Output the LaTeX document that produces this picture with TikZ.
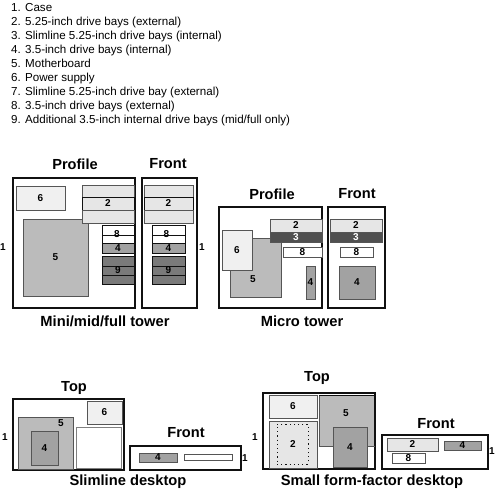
\documentclass[tikz,border=0pt]{standalone}
\usepackage{fontspec}
\setmainfont{Liberation Sans}
\usetikzlibrary{positioning}
\definecolor{wallgray}{HTML}{111111}
\definecolor{edgegray}{HTML}{555555}
\definecolor{psufill}{HTML}{F0F0F0}
\definecolor{bayfill}{HTML}{E6E6E6}
\definecolor{boardfill}{HTML}{BBBBBB}
\definecolor{intfill}{HTML}{A2A2A2}
\definecolor{addfill}{HTML}{7A7A7A}
\definecolor{slimfill}{HTML}{505050}
\tikzset{
  casebox/.style={
    rectangle, draw=wallgray, fill=white, line width=1.5pt,
    inner sep=0pt, outer sep=0pt
  },
  partbox/.style={
    rectangle, draw=edgegray, fill=#1, line width=0.9pt,
    inner sep=0pt, outer sep=0pt, font=\fontsize{10}{11}\selectfont\bfseries
  },
  linebox/.style={partbox=#1, draw=wallgray},
  numlabel/.style={inner sep=0pt, font=\fontsize{10}{11}\selectfont\bfseries},
  viewtitle/.style={inner sep=0pt, font=\fontsize{14.6}{16}\selectfont\bfseries},
  grouptitle/.style={inner sep=0pt, font=\fontsize{14.7}{16}\selectfont\bfseries},
}
\begin{document}
\begin{tikzpicture}[x=1pt,y=-1pt]
  \useasboundingbox (0,0) rectangle (500,490);
  \node[anchor=north west, inner sep=0pt, align=left, font=\fontsize{11.6}{14}\selectfont](legend) at (11,3.2)
    {1. Case\\2. 5.25-inch drive bays (external)\\3. Slimline 5.25-inch drive bays (internal)\\4. 3.5-inch drive bays (internal)\\5. Motherboard\\6. Power supply\\7. Slimline 5.25-inch drive bay (external)\\8. 3.5-inch drive bays (external)\\9. Additional 3.5-inch internal drive bays (mid/full only)};

  % tower
  \node[viewtitle](twprofile) at (75,164) {Profile};
  \node[viewtitle](twfront) at (168,164) {Front};
  \node[casebox, minimum width=122pt, minimum height=130pt](twcase) at (74,243) {};
  \node[casebox, minimum width=55pt, minimum height=130pt](twcasef) at (169.5,243) {};
  \node[partbox=psufill, minimum width=49pt, minimum height=24pt](tw6) at (40.5,198) {6};
  \node[partbox=boardfill, minimum width=65pt, minimum height=77pt](tw5) at (55.5,257.5) {5};
  \node[partbox=bayfill, minimum width=52pt, minimum height=12pt](twa) at (108,191) {};
  \node[linebox=bayfill, minimum width=52pt, minimum height=13pt](twb) at (108,203.5) {2};
  \node[partbox=bayfill, minimum width=52pt, minimum height=13pt](twc) at (108,216.5) {};
  \node[linebox=white, minimum width=32pt, minimum height=10pt](twd) at (118,230) {};
  \node[linebox=white, minimum width=32pt, minimum height=8pt](twe) at (118,239) {};
  \node[linebox=intfill, minimum width=32pt, minimum height=10pt](tw4) at (118,248) {4};
  \node[linebox=addfill, minimum width=32pt, minimum height=10pt](twf) at (118,261) {};
  \node[linebox=addfill, minimum width=32pt, minimum height=9pt](tw9) at (118,270.5) {9};
  \node[linebox=addfill, minimum width=32pt, minimum height=9pt](twg) at (118,279.5) {};
  \node[numlabel](tw8) at (117,234.5) {8};
  \node[partbox=bayfill, minimum width=49pt, minimum height=12pt](tfa) at (168.5,191) {};
  \node[linebox=bayfill, minimum width=49pt, minimum height=13pt](tfb) at (168.5,203.5) {2};
  \node[partbox=bayfill, minimum width=49pt, minimum height=13pt](tfc) at (168.5,216.5) {};
  \node[linebox=white, minimum width=33pt, minimum height=10pt](tfd) at (168.5,230) {};
  \node[linebox=white, minimum width=33pt, minimum height=8pt](tfe) at (168.5,239) {};
  \node[linebox=intfill, minimum width=33pt, minimum height=10pt](tf4) at (168.5,248) {4};
  \node[linebox=addfill, minimum width=33pt, minimum height=10pt](tff) at (168.5,261) {};
  \node[linebox=addfill, minimum width=33pt, minimum height=9pt](tf9) at (168.5,270.5) {9};
  \node[linebox=addfill, minimum width=33pt, minimum height=9pt](tfg) at (168.5,279.5) {};
  \node[numlabel](tf8) at (166.5,234.5) {8};
  \node[numlabel](twone) at (3,247.5) {1};
  \node[numlabel](tfone) at (202,247.5) {1};
  \node[grouptitle](twname) at (105,321) {Mini/mid/full tower};

  % micro tower
  \node[viewtitle](miprofile) at (272,194) {Profile};
  \node[viewtitle](mifront) at (357,194) {Front};
  \node[casebox, minimum width=103pt, minimum height=101pt](micase) at (270.5,257.5) {};
  \node[casebox, minimum width=57pt, minimum height=101pt](micasef) at (356.5,257.5) {};
  \node[partbox=boardfill, minimum width=51pt, minimum height=59pt](mi5) at (255.5,267.5) {};
  \node[numlabel](mi5t) at (253,279) {5};
  \node[partbox=bayfill, minimum width=52pt, minimum height=13pt](mi2) at (296,225.5) {2};
  \node[partbox=slimfill, text=white, minimum width=52pt, minimum height=10pt](mi3) at (296,237) {3};
  \node[partbox=psufill, minimum width=30pt, minimum height=40pt](mi6) at (237,250) {6};
  \node[partbox=white, minimum width=39pt, minimum height=10pt](mi8) at (302.5,252) {8};
  \node[partbox=intfill, minimum width=9pt, minimum height=33pt](mi4) at (310.5,282.5) {4};
  \node[partbox=bayfill, minimum width=52pt, minimum height=13pt](mf2) at (356,225.5) {2};
  \node[partbox=slimfill, text=white, minimum width=52pt, minimum height=10pt](mf3) at (356,237) {3};
  \node[partbox=white, minimum width=33pt, minimum height=10pt](mf8) at (356.5,252) {8};
  \node[partbox=intfill, minimum width=36pt, minimum height=33pt](mf4) at (357,282.5) {4};
  \node[grouptitle](miname) at (302,321) {Micro tower};

  % slimline desktop
  \node[viewtitle](sltop) at (74,388) {Top};
  \node[viewtitle](slfront) at (186,433) {Front};
  \node[casebox, minimum width=111pt, minimum height=71pt](slcase) at (68.5,434.5) {};
  \node[casebox, minimum width=111pt, minimum height=24pt](slcasef) at (185.5,458) {};
  \node[partbox=psufill, minimum width=35pt, minimum height=23pt](sl6) at (104.5,412.5) {6};
  \node[partbox=boardfill, minimum width=55pt, minimum height=52pt](sl5) at (45.5,443) {};
  \node[numlabel](sl5t) at (61,423.5) {5};
  \node[partbox=intfill, minimum width=27pt, minimum height=34pt](sl4) at (44.5,448) {4};
  \node[partbox=white, draw=gray, minimum width=45pt, minimum height=41pt](slbay) at (98.5,447.5) {};
  \node[partbox=intfill, minimum width=38pt, minimum height=9pt](sf4) at (158,457.5) {4};
  \node[partbox=white, minimum width=48pt, minimum height=6pt](sfbay) at (208,457) {};
  \node[numlabel](slone) at (5,437) {1};
  \node[numlabel](sfone) at (245,458) {1};
  \node[grouptitle](slname) at (128,482) {Slimline desktop};

  % small form-factor desktop
  \node[viewtitle](sftop) at (317,378) {Top};
  \node[viewtitle](sffront) at (436,424) {Front};
  \node[casebox, minimum width=112pt, minimum height=76pt](sfcase) at (319,431) {};
  \node[casebox, minimum width=106pt, minimum height=34pt](sfcasef) at (435,452) {};
  \node[partbox=psufill, minimum width=48pt, minimum height=23pt](sff6) at (293,406.5) {6};
  \node[partbox=bayfill, minimum width=48pt, minimum height=47pt](sff2) at (293,444.5) {2};
  \node[draw=wallgray, line width=1pt, dash pattern=on 1.2pt off 3pt, inner sep=0pt, minimum width=31pt, minimum height=40pt](sffdots) at (292.5,444) {};
  \node[partbox=boardfill, minimum width=55pt, minimum height=51pt](sff5) at (346.5,420.5) {};
  \node[numlabel](sff5t) at (346,413) {5};
  \draw[wallgray, line width=1pt](sff5.north west)-|(sff5.south east);
  \node[partbox=intfill, minimum width=34pt, minimum height=40pt](sff4) at (350,447) {4};
  \node[partbox=bayfill, minimum width=51pt, minimum height=13pt](sffa) at (412.5,444.5) {2};
  \node[partbox=intfill, minimum width=37pt, minimum height=9pt](sffb) at (462.5,445.5) {4};
  \node[partbox=white, minimum width=33pt, minimum height=10pt](sffc) at (408.5,458) {8};
  \node[numlabel](sffone) at (255,437) {1};
  \node[numlabel](sfftwo) at (492,451) {1};
  \node[grouptitle](sffname) at (372,482) {Small form-factor desktop};
\end{tikzpicture}
\end{document}
